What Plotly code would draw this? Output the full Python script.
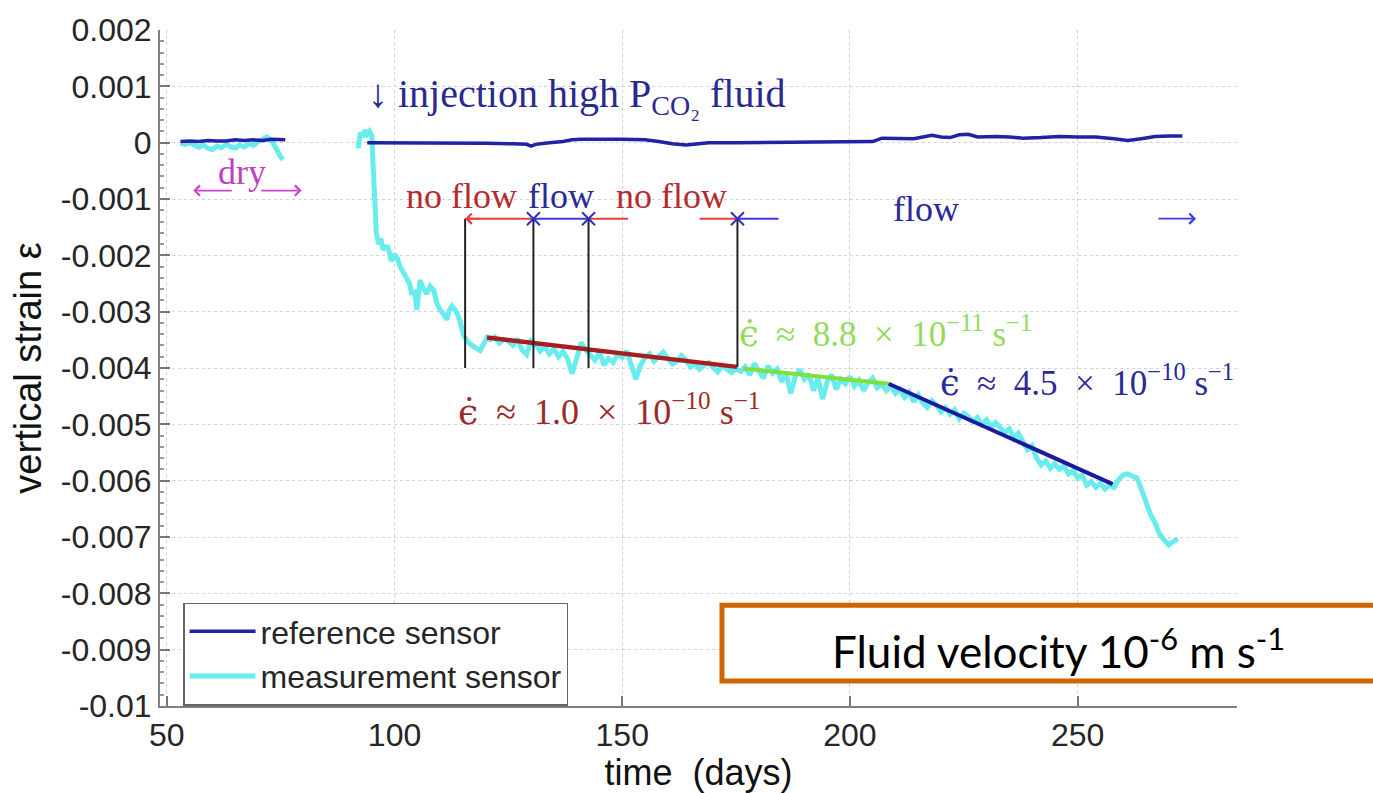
import plotly.graph_objects as go

# ---------------- data ----------------
ref_dry_days = [53, 55, 57, 59, 61, 63, 65, 67, 69, 71, 73, 75, 76]
ref_dry_vals = [0.00002, 0.00003, 0.00002, 0.00004, 0.00003, 0.00003, 0.00005, 0.00004, 0.00005, 0.00004, 0.00006, 0.00006, 0.00005]

ref_days = [94, 100, 110, 120, 126, 129, 130, 131, 134, 137, 139, 141, 150, 155, 158, 161, 164, 167, 169, 175,
            185, 195, 205, 207, 212, 214, 216, 218, 220, 222, 224, 226, 228, 232, 235, 238, 242, 246, 250,
            254, 258, 261, 264, 267, 270, 273]
ref_vals = [0.0, 0.0, 0.0, -0.00001, -0.00002, -0.00003, -0.00006, -0.00003, 0.0, 0.00002, 0.00005, 0.00006,
            0.00006, 0.00005, 0.00002, -0.00002, -0.00004, -0.00002, 0.0, 0.0, 0.00001, 0.00001, 0.00002,
            0.00008, 0.00008, 0.00007, 0.0001, 0.00013, 0.0001, 0.00009, 0.00014, 0.00015, 0.0001, 0.00011,
            0.0001, 0.00008, 0.00009, 0.00011, 0.0001, 0.0001, 0.00007, 0.00004, 0.00007, 0.00011, 0.00012, 0.00012]

meas_dry_days = [53, 54, 55, 56, 57, 58, 59, 60, 61, 62, 63, 64, 65, 66, 67, 68, 69, 70, 71, 72, 73, 74, 75, 75.5]
meas_dry_vals = [-0.00001, -0.00003, 0.0, -0.00005, -0.00008, -0.00004, -0.0001, -0.00012, -0.00006, -0.00009,
                 -0.00003, -0.00007, -0.0001, -0.00004, -0.00008, -0.00002, -0.00005, 0.00002, 0.00006, 0.0001,
                 0.00004, -0.00012, -0.00025, -0.0003]

meas_days = [92, 92.5, 93, 93.5, 94, 94.5, 95, 95.3, 95.6, 96, 96.5, 97, 97.5, 98, 98.6, 99.3, 100, 100.6, 101.2,
             102, 102.7, 103.3, 103.8, 104.4, 104.9, 105.6, 106.3, 107.1, 107.8, 108.6, 109.3, 110, 110.8, 111.5,
             112.0, 112.6, 113.2, 113.7, 114.4, 115.2, 116.3, 117.0, 117.7, 118.8, 119.5, 120.3,
             121, 122, 123, 124, 125, 126, 127, 128, 129, 130, 131, 132, 133, 134, 135, 136, 137, 138, 139, 140,
             141, 142, 143, 144, 145, 146, 147, 148, 149, 150, 151, 152, 153, 154, 155, 156, 157, 158, 159, 160,
             161, 162, 163, 164, 165, 166, 167, 168, 169, 170, 171, 172, 173, 174, 175, 176,
             177, 178, 179, 180, 181, 182, 183, 184, 185, 186, 187, 188, 189, 190, 191, 192, 193, 194, 195, 196,
             197, 198, 199, 200, 201, 202, 203, 204, 205, 206, 207, 208,
             209, 210, 211, 212, 213, 214, 215, 216, 217, 218, 219, 220, 221, 222, 223, 224, 225, 226, 227, 228,
             229, 230, 231, 232, 233, 234, 235, 236, 237, 238, 239, 240, 241, 242, 243, 244, 245, 246, 247, 248,
             249, 250, 251, 252, 253, 254, 255, 256, 257, 258, 259, 260, 261, 262, 263, 264, 265, 266, 267, 268,
             269, 270, 271, 272]
meas_vals = [-0.0001, 0.00018, 0.0001, 0.00022, 0.00015, 0.0002, 0.00012, -0.0005, -0.0012, -0.0016, -0.0018,
             -0.0017, -0.0019, -0.00185, -0.00186, -0.0021, -0.00198, -0.00205, -0.0022, -0.00232, -0.0024,
             -0.0025, -0.0027, -0.00262, -0.00297, -0.00244, -0.00258, -0.00268, -0.00255, -0.00262, -0.00285,
             -0.00297, -0.00305, -0.00314, -0.00298, -0.0029, -0.00296, -0.00302, -0.00318, -0.00343, -0.00355,
             -0.00360, -0.00364, -0.00369, -0.0036, -0.00346,
             -0.00350, -0.00345, -0.00356, -0.00349, -0.00352, -0.00360, -0.00348, -0.00368, -0.00376, -0.00352,
             -0.00358, -0.00370, -0.00362, -0.00375, -0.00366, -0.00380, -0.00371, -0.00384, -0.00410, -0.00378,
             -0.00355, -0.00368, -0.00378, -0.00386, -0.00372, -0.00395, -0.00383, -0.00390, -0.00375, -0.00381,
             -0.00370, -0.00392, -0.00420, -0.00395, -0.00382, -0.00375, -0.00388, -0.00379, -0.00372, -0.00383,
             -0.00393, -0.00388, -0.00378, -0.00386, -0.00398, -0.00392, -0.00402, -0.00395, -0.00390, -0.00399,
             -0.00407, -0.00396, -0.00402, -0.00408, -0.00401, -0.00406,
             -0.00398, -0.00412, -0.00392, -0.00405, -0.00418, -0.00396, -0.00409, -0.00402, -0.00424, -0.00410,
             -0.00445, -0.00415, -0.00403, -0.00420, -0.00411, -0.00440, -0.00418, -0.00455, -0.00425, -0.00412,
             -0.00438, -0.00420, -0.00428, -0.00415, -0.00432, -0.00422, -0.00440, -0.00426, -0.00418, -0.00435,
             -0.00428, -0.00440,
             -0.00432, -0.00445, -0.00438, -0.00452, -0.00443, -0.00460, -0.00448, -0.00462, -0.00470, -0.00458,
             -0.00466, -0.00478, -0.00470, -0.00482, -0.00474, -0.00490, -0.00480, -0.00486, -0.00495, -0.00488,
             -0.00500, -0.00492, -0.00505, -0.00497, -0.00505, -0.00515, -0.00508, -0.00525, -0.00516, -0.00530,
             -0.00545, -0.00538, -0.00560, -0.00572, -0.00565, -0.00578, -0.00570, -0.00580, -0.00574, -0.00588,
             -0.00582, -0.00595, -0.00590, -0.00608, -0.00602, -0.00612, -0.00605, -0.00615, -0.00608, -0.00612,
             -0.00598, -0.00590, -0.00588, -0.00592, -0.00595, -0.00615, -0.00640, -0.00660, -0.00675, -0.00695,
             -0.00705, -0.00714, -0.00708, -0.00703]

fit_red_days = [120.3, 175.2]
fit_red_vals = [-0.00346, -0.00398]
fit_green_days = [176.6, 208.5]
fit_green_vals = [-0.00401, -0.00428]
fit_blue_days = [208.5, 257.7]
fit_blue_vals = [-0.00428, -0.00606]

flow_level = -0.00135
red_segments = [(115.5, 130.5), (142.6, 151.3), (167.0, 175.3)]
blue_segments = [(130.5, 142.6), (175.3, 184.3)]
cross_days = [130.5, 142.6, 175.3]
vline_days = [115.5, 130.5, 142.6, 175.3]
vline_bottoms = [-0.0040, -0.0040, -0.0040, -0.00398]

ytick_vals = [0.002, 0.001, 0, -0.001, -0.002, -0.003, -0.004, -0.005, -0.006, -0.007, -0.008, -0.009, -0.01]
ytick_text = ["0.002", "0.001", "0", "-0.001", "-0.002", "-0.003", "-0.004", "-0.005", "-0.006", "-0.007",
              "-0.008", "-0.009", "-0.01"]
xtick_vals = [50, 100, 150, 200, 250]

# ---------------- colours / fonts ----------------
REF_BLUE = "#2222a6"
CYAN = "#68ecee"
SERIF = "Liberation Serif"
SANS = "Liberation Sans"
TXT = "#262626"
EPS = "<span style='font-family:DejaVu Serif'>\u03f5\u0307</span>"
SP = "\u2002"

fig = go.Figure()

# measurement sensor
fig.add_trace(go.Scatter(x=meas_dry_days + [None] + meas_days, y=meas_dry_vals + [None] + meas_vals,
                         mode="lines", line=dict(color=CYAN, width=5), name="measurement sensor",
                         legendrank=2, connectgaps=False))
# reference sensor
fig.add_trace(go.Scatter(x=ref_dry_days + [None] + ref_days, y=ref_dry_vals + [None] + ref_vals,
                         mode="lines", line=dict(color=REF_BLUE, width=3.5), name="reference sensor",
                         legendrank=1, connectgaps=False))

# fits
fig.add_trace(go.Scatter(x=fit_red_days, y=fit_red_vals, mode="lines",
                         line=dict(color="#a81e1e", width=4.5), showlegend=False))
fig.add_trace(go.Scatter(x=fit_green_days, y=fit_green_vals, mode="lines",
                         line=dict(color="#7ee038", width=4), showlegend=False))
fig.add_trace(go.Scatter(x=fit_blue_days, y=fit_blue_vals, mode="lines",
                         line=dict(color="#1a1a9e", width=4), showlegend=False))

# vertical black markers
for d, b in zip(vline_days, vline_bottoms):
    fig.add_trace(go.Scatter(x=[d, d], y=[flow_level, b], mode="lines",
                             line=dict(color="#222222", width=2), showlegend=False))

# flow / no flow segments
for a, b in red_segments:
    fig.add_trace(go.Scatter(x=[a, b], y=[flow_level, flow_level], mode="lines",
                             line=dict(color="#e04040", width=2), showlegend=False))
for a, b in blue_segments:
    fig.add_trace(go.Scatter(x=[a, b], y=[flow_level, flow_level], mode="lines",
                             line=dict(color="#3b3be0", width=2), showlegend=False))
fig.add_trace(go.Scatter(x=cross_days, y=[flow_level] * len(cross_days), mode="markers",
                         marker=dict(symbol="x-thin", size=13, line=dict(width=2, color="#3030c0")),
                         showlegend=False))

annotations = []


def arrow(head, tail, y, color):
    annotations.append(dict(x=head, y=y, ax=tail, ay=y, xref="x", yref="y", axref="x", ayref="y",
                            text="", showarrow=True, arrowhead=4, arrowsize=1.1, arrowwidth=1.8,
                            arrowcolor=color, standoff=0))


arrow(115.5, 119.0, flow_level, "#e04040")
arrow(276.0, 267.4, flow_level, "#3b3be0")
arrow(55.8, 64.6, -0.00085, "#cc44cc")
arrow(79.6, 70.4, -0.00085, "#cc44cc")


def txt(x, y, s, color, size=36, anchor="center", family=SERIF, vanchor="middle"):
    annotations.append(dict(x=x, y=y, xref="x", yref="y", text=s, showarrow=False, xanchor=anchor,
                            yanchor=vanchor, font=dict(family=family, size=size, color=color)))


txt(66.6, -0.00052, "dry", "#c040c0")
txt(93.8, 0.00082, "\u2193 injection high P<sub>CO\u2082</sub> fluid", "#2a2a8e", size=40, anchor="left")
txt(114.8, -0.00095, "no flow", "#b52a2e")
txt(136.6, -0.00095, "flow", "#2a2a9a")
txt(160.8, -0.00095, "no flow", "#b52a2e")
txt(216.6, -0.00118, "flow", "#2a2a9a")
txt(113.5, -0.00474, EPS + SP + "\u2248" + SP + "1.0" + SP + "\u00d7" + SP + "10<sup>\u221210</sup> s<sup>\u22121</sup>",
    "#9c2a2a", anchor="left")
txt(175.3, -0.00378, EPS + SP + "\u2248" + SP + "8.8" + SP + "\u00d7" + SP + "10<sup>\u221211</sup> s<sup>\u22121</sup>",
    "#8fdc5a", size=35, anchor="left", vanchor="bottom")
txt(219.3, -0.00378, EPS + SP + "\u2248" + SP + "4.5" + SP + "\u00d7" + SP + "10<sup>\u221210</sup> s<sup>\u22121</sup>",
    "#2a2a9a", size=35, anchor="left", vanchor="top")

# fluid velocity box text
annotations.append(dict(x=0.834, y=0.085, xref="paper", yref="paper", showarrow=False,
                        text="Fluid velocity 10<sup>-6</sup> m s<sup>-1</sup>",
                        font=dict(family="Lato", size=44, color="#000000"),
                        xanchor="center", yanchor="middle"))

fig.update_layout(
    width=1373, height=793,
    margin=dict(l=160, r=136, t=24, b=82),
    paper_bgcolor="white", plot_bgcolor="white",
    annotations=annotations,
    shapes=[dict(type="rect", xref="paper", yref="paper", x0=0.5218, x1=1.14, y0=0.037, y1=0.149,
                 line=dict(color="#cc6600", width=5), fillcolor="white", layer="above")],
    legend=dict(x=0.0214, y=0.153, xanchor="left", yanchor="top", bgcolor="white",
                bordercolor="#666666", borderwidth=1.5, itemwidth=66,
                font=dict(family=SANS, size=32, color=TXT), tracegroupgap=0),
    xaxis=dict(range=[48.5, 285], tickvals=xtick_vals, ticks="inside", ticklen=10, tickwidth=1.5,
               tickcolor="#777777", showline=True, linecolor="#808080", linewidth=2,
               showgrid=True, gridcolor="#d2d2d2", griddash="dot", gridwidth=1, zeroline=False,
               tickfont=dict(family=SANS, size=32, color=TXT),
               title=dict(text="time\u00a0\u00a0(days)", font=dict(family=SANS, size=36, color="#111111"),
                          standoff=2)),
    yaxis=dict(range=[-0.01, 0.002], tickvals=ytick_vals, ticktext=ytick_text, ticks="inside", ticklen=10,
               tickwidth=1.5, tickcolor="#777777", showline=True, linecolor="#808080", linewidth=2,
               showgrid=True, gridcolor="#d2d2d2", griddash="dot", gridwidth=1, zeroline=False,
               tickfont=dict(family=SANS, size=32, color=TXT),
               minor=dict(dtick=0.0002, ticks="inside", ticklen=4, tickcolor="#999999", showgrid=False),
               title=dict(text="vertical strain \u03b5", font=dict(family=SANS, size=38, color="#111111"),
                          standoff=8)),
)

fig.write_html("out.html", config={"displayModeBar": False},
               post_script="document.body.style.margin='0';")
